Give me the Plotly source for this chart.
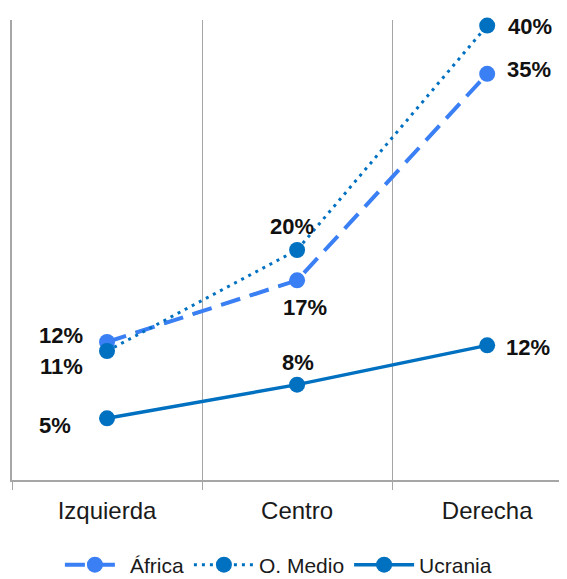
import plotly.graph_objects as go

categories = ["Izquierda", "Centro", "Derecha"]
africa = [11.8, 17.3, 35.7]
oriente_medio = [11.0, 20.0, 40.0]
ucrania = [5.0, 8.0, 11.5]
africa_labels = ["12%", "17%", "35%"]
oriente_medio_labels = ["11%", "20%", "40%"]
ucrania_labels = ["5%", "8%", "12%"]

BLUE_LIGHT = "#3b7ff5"
BLUE_DARK = "#0070c0"
FONT = "Liberation Sans, Arial, sans-serif"
xs = list(range(len(categories)))

fig = go.Figure()

# faint green segment peeking through the dashes between Izquierda and Centro
fig.add_trace(go.Scatter(
    x=xs[:2], y=africa[:2], mode="lines", showlegend=False, hoverinfo="skip",
    line=dict(color="#2fb34c", width=3, dash="8px,22px"),
))
fig.add_trace(go.Scatter(
    x=xs, y=africa, name="África", mode="lines+markers", cliponaxis=False,
    line=dict(color=BLUE_LIGHT, width=4, dash="20px,10px"),
    marker=dict(size=16, color=BLUE_LIGHT),
))
fig.add_trace(go.Scatter(
    x=xs, y=oriente_medio, name="O. Medio", mode="lines+markers", cliponaxis=False,
    line=dict(color=BLUE_DARK, width=3, dash="3px,5px"),
    marker=dict(size=16, color=BLUE_DARK),
))
fig.add_trace(go.Scatter(
    x=xs, y=ucrania, name="Ucrania", mode="lines+markers", cliponaxis=False,
    line=dict(color=BLUE_DARK, width=3.5),
    marker=dict(size=16, color=BLUE_DARK),
))

# data labels, offsets in pixels from each point
label_sets = [
    (africa, africa_labels, [(-46, 7), (8, -27), (42, 4)]),
    (oriente_medio, oriente_medio_labels, [(-46, -16), (-5, 24), (43, -1)]),
    (ucrania, ucrania_labels, [(-52, -7), (1, 22), (41, -2)]),
]
for values, labels, shifts in label_sets:
    for x, v, txt, (dx, dy) in zip(xs, values, labels, shifts):
        fig.add_annotation(
            x=x, y=v, text=f"<b>{txt}</b>", showarrow=False,
            xshift=dx, yshift=dy, xanchor="center", yanchor="middle",
            font=dict(family=FONT, size=22, color="#111111"),
        )

# the page body adds an 8px offset, so margins are trimmed to compensate
fig.update_layout(
    width=567,
    height=579,
    margin=dict(l=4, r=8, t=12, b=107, autoexpand=False),
    paper_bgcolor="white",
    plot_bgcolor="white",
    font=dict(family=FONT, color="#1a1a1a"),
    showlegend=True,
    legend=dict(
        orientation="h", x=0.48, xanchor="center",
        yref="container", y=0.038, yanchor="middle",
        font=dict(family=FONT, size=21, color="#1a1a1a"),
        itemwidth=60,
    ),
    xaxis=dict(
        range=[-0.5, 2.42],
        tickvals=xs,
        ticktext=categories,
        ticks="",
        showgrid=False,
        zeroline=False,
        showline=True,
        linecolor="#a6a6a6",
        linewidth=1.5,
        tickfont=dict(family=FONT, size=24, color="#1a1a1a"),
        ticklabelstandoff=8,
        minor=dict(
            tickmode="array",
            tickvals=[-0.5, 0.5, 1.5, 2.5],
            showgrid=True,
            gridcolor="#a6a6a6",
            gridwidth=1.2,
            ticks="outside",
            ticklen=8,
            tickcolor="#a6a6a6",
            tickwidth=1.2,
        ),
    ),
    yaxis=dict(
        range=[-0.5, 40.5],
        showticklabels=False,
        ticks="",
        showgrid=False,
        zeroline=False,
        showline=True,
        linecolor="#a6a6a6",
        linewidth=1.5,
    ),
)

fig.write_html("out.html")
